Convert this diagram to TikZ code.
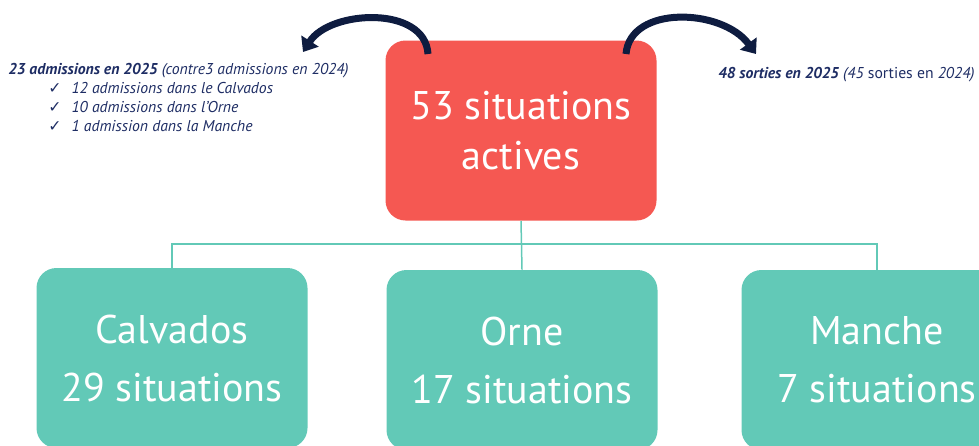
\documentclass[tikz,border=0pt]{standalone}
\usepackage{fontspec}
\setmainfont{PT Sans}
\newfontfamily\chkfont{DejaVu Sans}
\usepackage{tikz}
\usetikzlibrary{arrows.meta, positioning}
\definecolor{redbox}{RGB}{245,88,82}
\definecolor{tealbox}{RGB}{98,201,183}
\definecolor{navytext}{RGB}{30,45,100}
\definecolor{navyarrow}{RGB}{14,28,64}
\tikzset{every picture/.style={line width=0.75pt}}
\newcommand{\chk}{{\chkfont\upshape ✓}}

\begin{document}
\begin{tikzpicture}[x=1pt,y=-1pt,
    every node/.style={inner sep=0pt},
    bigbox/.style={rounded corners=20pt, minimum width=271pt, minimum height=180pt,
        text=white, align=center, font=\fontsize{40}{58}\selectfont},
    dept/.style={bigbox, fill=tealbox},
    link/.style={draw=tealbox, line width=1.5pt},
    flow/.style={draw=navyarrow, line width=7pt, -{Triangle[width=20pt,length=13pt]}},
    note/.style={text=navytext, font=\fontsize{15.7}{19}\selectfont\itshape}]
        \useasboundingbox (0,0) rectangle (979,445);
        \clip (0,0) rectangle (979,445);

        \node[bigbox, fill=redbox] (total) at (521,130.5) {53 situations\\[-8pt]actives};
        \node[dept] (calv) at (172,358) {Calvados\\29 situations};
        \node[dept] (orne) at (522,360) {Orne\\17 situations};
        \node[dept] (manche) at (877,360) {Manche\\7 situations};

        \coordinate (hub) at (521,244);
        \draw[link] (total.south) -- (orne.north);
        \draw[link] (calv.north) |- (hub) -| (manche.north);

        % entries and exits
        \draw[flow] (428,54) .. controls (425,5) and (330,10) .. (303,52);
        \draw[flow] (626,54) .. controls (630,5) and (722,8) .. (756,54);

        \node[note, anchor=north west, align=left] (adm) at (8,63)
            {\textbf{23 admissions en 2025} (contre3 admissions en 2024)\\
             \hspace*{40pt}\chk\hspace{10pt}12 admissions dans le Calvados\\
             \hspace*{40pt}\chk\hspace{10pt}10 admissions dans l'Orne\\
             \hspace*{40pt}\chk\hspace{10pt}1 admission dans la Manche};
        \node[note, anchor=base east] (exits) at (975,78)
            {\textbf{48 sorties en 2025} (45 {\upshape sorties en} 2024)};
    \end{tikzpicture}
\end{document}
